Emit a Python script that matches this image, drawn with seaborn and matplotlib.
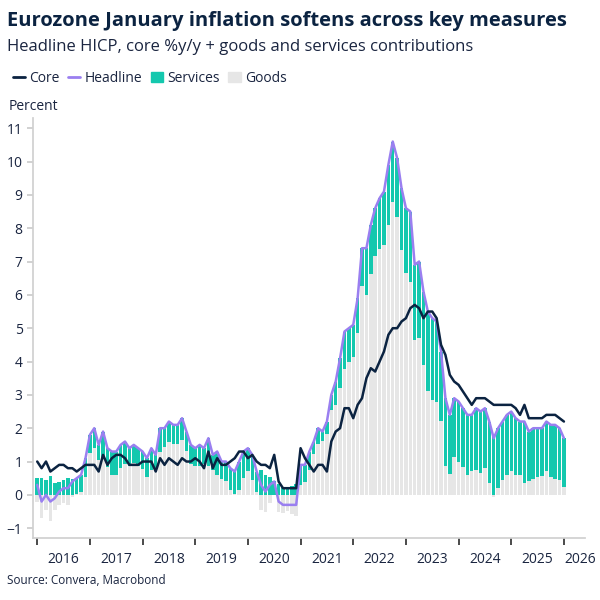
import numpy as np
import pandas as pd
import matplotlib
matplotlib.use("Agg")
import matplotlib.pyplot as plt
import seaborn as sns
from matplotlib.lines import Line2D
from matplotlib.patches import Patch

headline = [0.3,-0.2,0.0,-0.2,-0.1,0.1,0.2,0.2,0.4,0.5,0.6,1.1,
            1.8,2.0,1.5,1.9,1.4,1.3,1.3,1.5,1.6,1.4,1.5,1.4,
            1.3,1.1,1.4,1.2,2.0,2.0,2.2,2.1,2.1,2.3,1.9,1.5,
            1.4,1.5,1.4,1.7,1.2,1.3,1.0,1.0,0.8,0.7,1.0,1.3,
            1.4,1.2,0.7,0.3,0.1,0.3,0.4,-0.2,-0.3,-0.3,-0.3,-0.3,
            0.9,0.9,1.3,1.6,2.0,1.9,2.2,3.0,3.4,4.1,4.9,5.0,
            5.1,5.9,7.4,7.4,8.1,8.6,8.9,9.1,9.9,10.6,10.1,9.2,
            8.6,8.5,6.9,7.0,6.1,5.5,5.3,5.2,4.3,2.9,2.4,2.9,
            2.8,2.6,2.4,2.4,2.6,2.5,2.6,2.2,1.7,2.0,2.2,2.4,
            2.5,2.3,2.2,2.2,1.9,2.0,2.0,2.0,2.2,2.1,2.1,2.0,
            1.7]
core = [1.0,0.8,1.0,0.7,0.8,0.9,0.9,0.8,0.8,0.7,0.8,0.9,
        0.9,0.9,0.7,1.2,0.9,1.1,1.2,1.2,1.1,0.9,0.9,0.9,
        1.0,1.0,1.0,0.7,1.1,0.9,1.1,1.0,0.9,1.1,1.0,1.0,
        1.1,1.0,0.8,1.3,0.8,1.1,0.9,0.9,1.0,1.1,1.3,1.3,
        1.1,1.2,1.0,0.9,0.9,0.8,1.2,0.4,0.2,0.2,0.2,0.2,
        1.4,1.1,0.9,0.7,0.9,0.9,0.7,1.6,1.9,2.0,2.6,2.6,
        2.3,2.7,2.9,3.5,3.8,3.7,4.0,4.3,4.8,5.0,5.0,5.2,
        5.3,5.6,5.7,5.6,5.3,5.5,5.5,5.3,4.5,4.2,3.6,3.4,
        3.3,3.1,2.9,2.7,2.9,2.9,2.9,2.8,2.7,2.7,2.7,2.7,
        2.7,2.6,2.4,2.7,2.3,2.3,2.3,2.3,2.4,2.4,2.4,2.3,
        2.2]
services = [0.50,0.50,0.45,0.58,0.36,0.40,0.45,0.50,0.47,0.48,0.50,0.57,
            0.55,0.60,0.45,0.80,0.57,0.70,0.70,0.70,0.66,0.53,0.53,0.53,
            0.53,0.57,0.66,0.44,0.70,0.57,0.62,0.57,0.57,0.66,0.57,0.57,
            0.53,0.62,0.48,0.84,0.44,0.70,0.53,0.57,0.66,0.66,0.84,0.79,
            0.69,0.74,0.60,0.74,0.60,0.55,0.41,0.32,0.23,0.18,0.28,0.32,
            0.59,0.50,0.55,0.38,0.46,0.29,0.38,0.46,0.71,0.88,1.13,1.01,
            0.97,1.05,1.13,1.39,1.47,1.43,1.51,1.60,1.81,1.81,1.76,1.85,
            1.94,2.11,2.24,2.29,2.20,2.38,2.46,2.42,2.07,2.02,1.76,1.76,
            1.80,1.76,1.80,1.67,1.85,1.85,1.80,1.85,1.76,1.80,1.76,1.80,
            1.79,1.70,1.61,1.84,1.47,1.52,1.47,1.43,1.47,1.56,1.61,1.56,
            1.47]
goods = [-0.20,-0.70,-0.45,-0.78,-0.46,-0.30,-0.25,-0.30,-0.07,0.02,0.10,0.53,
         1.25,1.40,1.05,1.10,0.83,0.60,0.60,0.80,0.94,0.87,0.97,0.87,
         0.77,0.53,0.74,0.76,1.30,1.43,1.58,1.53,1.53,1.64,1.33,0.93,
         0.87,0.88,0.92,0.86,0.76,0.60,0.47,0.43,0.14,0.04,0.16,0.51,
         0.71,0.46,0.10,-0.44,-0.50,-0.25,-0.01,-0.52,-0.53,-0.48,-0.58,-0.62,
         0.31,0.40,0.75,1.22,1.54,1.61,1.82,2.54,2.69,3.22,3.77,3.99,
         4.13,4.85,6.27,6.01,6.63,7.17,7.39,7.50,8.09,8.79,8.34,7.35,
         6.66,6.39,4.66,4.71,3.90,3.12,2.84,2.78,2.23,0.88,0.64,1.14,
         1.00,0.84,0.60,0.73,0.75,0.65,0.80,0.35,-0.06,0.20,0.44,0.60,
         0.71,0.60,0.59,0.36,0.43,0.48,0.53,0.57,0.73,0.54,0.49,0.44,
         0.23]
years = list(range(2016, 2027))

sns.set_theme(style="white")
plt.rcParams['font.family'] = ['Open Sans', 'DejaVu Sans']

dates = pd.date_range("2016-01-01", periods=len(headline), freq="MS")
x = dates.year + (dates.month - 1) / 12
df = pd.DataFrame({"x": x, "Headline": headline, "Core": core,
                   "Services": services, "Goods": goods})

NAVY = "#0b2341"; PURPLE = "#9a7ff0"; TEAL = "#14c8ae"; GREY = "#e6e6e6"

fig = plt.figure(figsize=(6, 6), dpi=100)
ax = fig.add_axes([0.055, 0.103, 0.92, 0.7])
w = 0.066
g = df["Goods"].values
ax.bar(df["x"], g, width=w, color=GREY, align="center", zorder=1, linewidth=0)
ax.bar(df["x"], df["Services"], bottom=np.maximum(g, 0), width=w, color=TEAL, zorder=2, linewidth=0)
sns.lineplot(data=df, x="x", y="Headline", color=PURPLE, lw=1.8, ax=ax, zorder=3)
sns.lineplot(data=df, x="x", y="Core", color=NAVY, lw=1.8, ax=ax, zorder=4)

ax.set_xlim(2015.92, 2026.4)
ax.set_ylim(-1.3, 11.3)
ax.set_yticks(range(-1, 12))
ax.set_xticks(years)
ax.set_xticklabels([])
ax.set_xticks([y + 0.5 for y in years[:-1]] + [2026.3], minor=True)
ax.set_xticklabels([str(y) for y in years], minor=True)
ax.tick_params(axis="x", which="major", length=5, color="#333333", direction="out", bottom=True)
ax.tick_params(axis="x", which="minor", length=0, pad=10, labelsize=10, labelcolor="#1a2540")
ax.tick_params(axis="y", length=4, color="#cccccc", left=True, labelsize=10, labelcolor="#1a2540")
ax.set_xlabel(""); ax.set_ylabel("")
for s in ["top", "right"]:
    ax.spines[s].set_visible(False)
for s in ["left", "bottom"]:
    ax.spines[s].set_color("#d0d0d0")

fig.text(0.012, 0.965, "Eurozone January inflation softens across key measures",
         fontsize=14.5, fontweight="bold", color=NAVY, va="center")
fig.text(0.012, 0.922, "Headline HICP, core %y/y + goods and services contributions",
         fontsize=12, color="#1a2540", va="center")
fig.text(0.015, 0.822, "Percent", fontsize=10, color="#1a2540", va="center")
fig.text(0.012, 0.032, "Source: Convera, Macrobond", fontsize=8.5, color="#1a2540", va="center")

handles = [Line2D([], [], color=NAVY, lw=2), Line2D([], [], color=PURPLE, lw=2),
           Patch(color=TEAL), Patch(color=GREY)]
fig.legend(handles, ["Core", "Headline", "Services", "Goods"], loc="center left",
           bbox_to_anchor=(0.0, 0.87), ncol=4, frameon=False, fontsize=10,
           handlelength=0.9, handletextpad=0.3, columnspacing=0.6,
           labelcolor="#1a2540")
fig.savefig("out.png", dpi=100)
